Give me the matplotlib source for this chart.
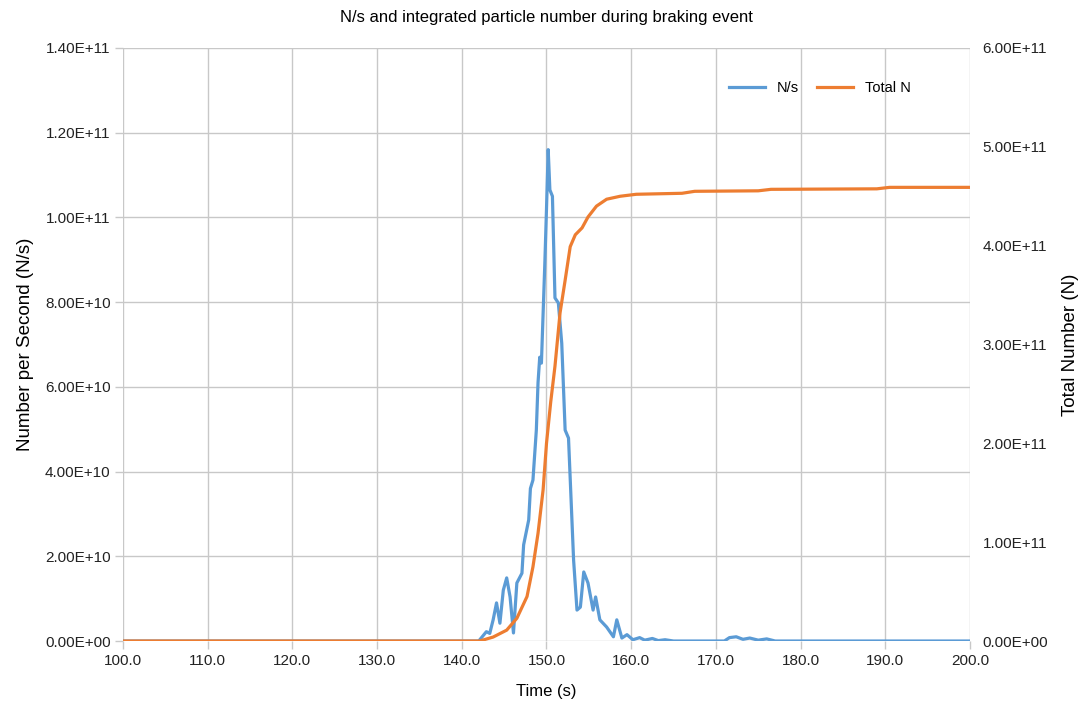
import matplotlib.pyplot as plt
from matplotlib.ticker import FuncFormatter, MultipleLocator

plt.rcParams['font.family'] = ['Liberation Sans', 'DejaVu Sans']

# N/s trace (time in s, value in N/s)
t_rate = [100.0, 142.0, 142.9, 143.3, 143.7, 144.1, 144.5, 144.9, 145.3, 145.7,
          146.1, 146.5, 147.1, 147.3, 147.9, 148.1, 148.4, 148.8, 149.0, 149.2,
          149.4, 149.8, 150.0, 150.2, 150.4, 150.7, 151.0, 151.4, 151.8, 152.2,
          152.6, 153.2, 153.6, 154.0, 154.4, 154.9, 155.5, 155.8, 156.3, 157.1,
          157.9, 158.3, 158.9, 159.5, 160.2, 161.0, 161.6, 162.5, 163.2, 164.0,
          165.0, 171.0, 171.6, 172.4, 173.2, 174.0, 175.0, 176.0, 177.0, 200.0]
n_rate = [0.0, 0.0, 2.2e9, 1.8e9, 5.0e9, 9.0e9, 4.2e9, 1.2e10, 1.49e10, 1.04e10,
          1.9e9, 1.37e10, 1.6e10, 2.27e10, 2.86e10, 3.6e10, 3.8e10, 4.98e10, 6.1e10, 6.7e10,
          6.56e10, 8.9e10, 1.02e11, 1.16e11, 1.065e11, 1.05e11, 8.1e10, 7.98e10, 7.03e10, 4.98e10,
          4.79e10, 1.91e10, 7.3e9, 8.0e9, 1.63e10, 1.37e10, 7.3e9, 1.04e10, 5.0e9, 3.3e9,
          1.0e9, 5.0e9, 7.0e8, 1.5e9, 3.0e8, 8.0e8, 2.0e8, 6.0e8, 1.0e8, 3.0e8,
          0.0, 0.0, 8.0e8, 1.0e9, 4.0e8, 7.0e8, 2.0e8, 5.0e8, 0.0, 0.0]

# integrated particle number
t_total = [100.0, 142.1, 143.7, 145.3, 146.5, 147.7, 148.4, 149.0, 149.6, 150.0,
           150.5, 151.0, 151.6, 152.2, 152.8, 153.4, 154.2, 154.9, 155.9, 157.1,
           158.7, 160.6, 166.0, 167.5, 175.0, 176.5, 189.0, 190.5, 200.0]
n_total = [0.0, 0.0, 0.04e11, 0.11e11, 0.23e11, 0.45e11, 0.75e11, 1.09e11, 1.53e11, 2.0e11,
           2.42e11, 2.78e11, 3.32e11, 3.65e11, 3.99e11, 4.11e11, 4.18e11, 4.29e11, 4.40e11, 4.47e11,
           4.50e11, 4.52e11, 4.53e11, 4.55e11, 4.555e11, 4.57e11, 4.575e11, 4.59e11, 4.59e11]

blue = '#5B9BD5'
orange = '#ED7D31'
grid_c = '#C8C8C8'

fig, ax = plt.subplots(figsize=(10.84, 7.09), dpi=100)
fig.subplots_adjust(left=0.1135, right=0.8948, top=0.9323, bottom=0.0959)
ax2 = ax.twinx()

l1, = ax.plot(t_rate, n_rate, color=blue, lw=2.3, label='N/s')
l2, = ax2.plot(t_total, n_total, color=orange, lw=2.3, label='Total N')

ax.set_xlim(100, 200)
ax.set_ylim(0, 1.4e11)
ax2.set_ylim(0, 6e11)
ax.xaxis.set_major_locator(MultipleLocator(10))
ax.yaxis.set_major_locator(MultipleLocator(2e10))
ax2.yaxis.set_major_locator(MultipleLocator(1e11))

sci = FuncFormatter(lambda v, p: '{:.2E}'.format(v))
ax.yaxis.set_major_formatter(sci)
ax2.yaxis.set_major_formatter(sci)
ax.xaxis.set_major_formatter(FuncFormatter(lambda v, p: '{:.1f}'.format(v)))

ax.grid(True, color=grid_c, lw=1)
ax.set_axisbelow(True)
for a in (ax, ax2):
    for s in a.spines.values():
        s.set_visible(False)
    a.tick_params(labelsize=11, labelcolor='#222222')
ax.tick_params(length=6, color=grid_c, width=1, pad=3)
ax2.tick_params(length=0, pad=9)

ax.set_xlabel('Time (s)', fontsize=12, labelpad=12)
ax.set_ylabel('Number per Second (N/s)', fontsize=13.5, labelpad=8)
ax2.set_ylabel('Total Number (N)', fontsize=13.5, labelpad=10)
ax.set_title('N/s and integrated particle number during braking event', fontsize=12, pad=19)

ax2.legend(handles=[l1, l2], loc='center left', bbox_to_anchor=(0.70, 0.933),
           ncol=2, frameon=False, fontsize=10.5, handlelength=2.5, columnspacing=1.2)

fig.savefig('out.png', dpi=100)
